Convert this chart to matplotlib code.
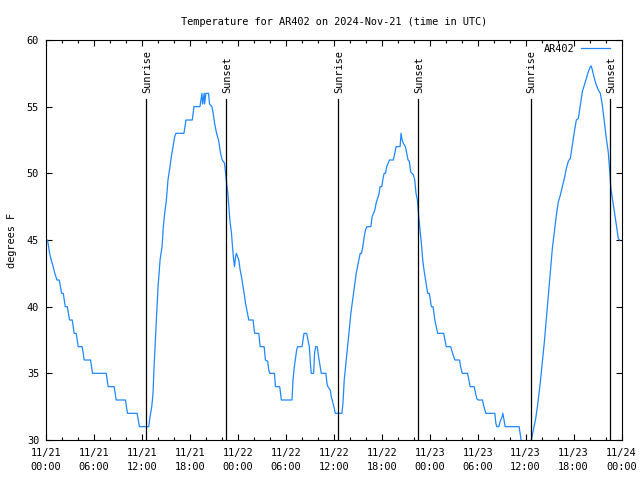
import numpy as np
import matplotlib.pyplot as plt

# hours since 11/21 00:00 UTC
hores = [0.0, 0.2, 0.45, 0.65, 0.9, 1.1, 1.37, 1.66, 1.95, 2.16, 2.41, 2.66, 2.95, 3.28,
         3.53, 3.78, 4.03, 4.53, 4.78, 5.57, 5.82, 7.53, 7.78, 8.53, 8.78, 9.94, 10.19,
         11.4, 11.69, 12.85,
         13.02, 13.23, 13.39, 13.52, 13.68, 13.85, 14.02, 14.27, 14.52, 14.68, 14.85,
         15.06, 15.26, 15.51, 15.68, 15.89, 16.1, 16.26, 17.26, 17.51, 18.3, 18.51,
         19.26, 19.51, 19.59, 19.8, 19.84, 20.0, 20.34, 20.46, 20.76, 20.92, 21.09,
         21.34, 21.59, 21.84, 22.05, 22.34, 22.55, 22.75, 23.0,
         23.21, 23.33, 23.46, 23.58, 23.71, 23.83, 23.96, 24.12, 24.29, 24.46, 24.62,
         24.79, 24.96, 25.12, 25.29, 25.37, 25.91, 26.04, 26.12, 26.62, 26.79, 27.29,
         27.45, 27.74, 27.87, 27.99, 28.58, 28.7, 29.24, 29.45, 30.78, 30.9, 31.07,
         31.24, 31.36, 31.49, 32.03, 32.15, 32.28, 32.61, 32.78, 32.94, 33.11, 33.19,
         33.48, 33.6, 33.73, 33.94, 34.1, 34.31, 34.44, 35.02, 35.15, 35.27, 35.56,
         35.69, 35.85, 36.02, 36.19, 37.02,
         37.15, 37.31, 37.48, 37.64, 37.81, 37.98, 38.14, 38.31, 38.47, 38.64, 38.81,
         38.97, 39.14, 39.31, 39.47, 39.64, 39.81, 39.97, 40.14, 40.64, 40.8, 40.97,
         41.14, 41.3, 41.47, 41.64, 41.8, 42.01, 42.14, 42.3, 42.47, 42.63, 42.8,
         42.97, 43.46, 43.63, 43.8, 44.3, 44.42, 44.55, 44.71, 44.96, 45.13, 45.3,
         45.46, 45.63, 45.79, 45.96, 46.13, 46.29, 46.46,
         46.67, 46.84, 47.0, 47.13, 47.29, 47.42, 47.54, 47.67, 47.75, 47.96, 48.08,
         48.21, 48.42, 48.54, 48.67, 48.83, 49.0, 49.75, 49.91, 50.08, 50.62, 50.83,
         51.0, 51.16, 51.74, 51.87, 52.08, 52.74, 52.91, 53.07, 53.57, 53.74, 53.9,
         54.07, 54.61, 54.74, 54.91, 55.03, 56.15, 56.28, 56.4, 56.65, 56.82, 57.07,
         57.15, 57.32, 57.44, 59.19, 59.32, 59.44, 59.7, 60.1, 60.45, 60.73,
         60.93, 61.27, 61.56, 61.85, 62.1, 62.35, 62.6, 62.85, 63.1, 63.35, 63.6,
         63.85, 64.1, 64.35, 64.6, 64.85, 65.1, 65.35, 65.6, 65.85, 66.1, 66.35,
         66.6, 66.85, 67.1, 67.35, 67.6, 67.85, 68.1, 68.22, 68.35, 68.6, 68.85,
         69.1, 69.35, 69.6, 69.85, 70.1, 70.34, 70.5, 70.67, 70.92, 71.17, 71.42,
         71.59, 71.75]

# temperatura (graus F)
temps = [45, 45, 44, 43.5, 43, 42.5, 42, 42, 41, 41, 40, 40, 39, 39,
         38, 38, 37, 37, 36, 36, 35, 35, 34, 34, 33, 33, 32,
         32, 31, 31,
         31.75, 32.5, 33.5, 35.5, 37.5, 39.5, 41.5, 43.5, 44.5, 46, 47,
         48, 49.5, 50.5, 51.25, 52, 52.75, 53, 53, 54, 54, 55,
         55, 56, 55.2, 56, 55.2, 56, 56, 55.2, 55, 54.5, 53.75,
         53, 52.5, 51.5, 51, 50.75, 49.5, 48.5, 46.5,
         45.5, 44.5, 43.6, 43, 43.75, 44, 43.75, 43.5, 42.75, 42.25, 41.6,
         41, 40.25, 39.75, 39.25, 39, 39, 38.25, 38, 38, 37, 37,
         36, 35.9, 35.25, 35, 35, 34, 34, 33, 33, 34.5, 35.5,
         36.25, 36.75, 37, 37, 37.5, 38, 38, 37.5, 37, 35.5, 35,
         35, 36.5, 37, 37, 36.25, 35.5, 35, 35, 34.25, 34, 33.75,
         33.25, 32.9, 32.5, 32, 32,
         32.75, 34.5, 35.5, 36.5, 37.5, 38.5, 39.5, 40.25, 41, 41.75, 42.5,
         43, 43.5, 44, 44, 44.5, 45.25, 45.75, 46, 46, 46.75, 47,
         47.25, 47.75, 48.1, 48.4, 49, 49, 49.5, 50, 50, 50.5, 50.75,
         51, 51, 51.5, 52, 52, 53, 52.5, 52.25, 52, 51.5, 51,
         50.9, 50.1, 50, 49.9, 49.5, 48.5, 48,
         46.5, 45.5, 44.5, 43.5, 42.75, 42.25, 41.75, 41.25, 41, 41, 40.5,
         40, 40, 39.5, 38.9, 38.5, 38, 38, 37.5, 37, 37, 36.6,
         36.25, 36, 36, 35.5, 35, 35, 34.5, 34, 34, 33.5, 33.1,
         33, 33, 32.6, 32.25, 32, 32, 31.25, 31, 31, 31.4, 31.75,
         32, 31.45, 31, 31, 30.5, 30, 29.4, 29, 29.2, 30,
         30.62, 31.62, 32.87, 34.37, 35.87, 37.37, 39.12, 40.87, 42.62, 44.37, 45.62,
         46.87, 47.87, 48.37, 49.0, 49.62, 50.37, 50.92, 51.12, 52.12, 53.12, 54.0,
         54.12, 55.12, 56.12, 56.62, 57.12, 57.62, 58.0, 58.05, 57.75, 57.12, 56.62,
         56.25, 56.0, 55.12, 53.87, 52.62, 51.62, 50.37, 48.87, 47.87, 46.87, 45.87,
         45.12, 45]

# sortida i posta de sol (hores)
sortides = [12.55, 36.57, 60.62]
postes = [22.56, 46.58, 70.6]

xticks_pos = np.arange(0, 73, 6)
xticks_lbl = ["11/21\n00:00", "11/21\n06:00", "11/21\n12:00", "11/21\n18:00",
              "11/22\n00:00", "11/22\n06:00", "11/22\n12:00", "11/22\n18:00",
              "11/23\n00:00", "11/23\n06:00", "11/23\n12:00", "11/23\n18:00",
              "11/24\n00:00"]

plt.rcParams['font.family'] = 'DejaVu Sans Mono'
fs = 7.4

fig = plt.figure(figsize=(6.4, 4.8), dpi=100)
ax = fig.add_axes([46/640, 1 - 440/480, 575.5/640, 400/480])

ax.plot(hores, temps, color='#1E88FF', linewidth=0.9, label='AR402')

for h in sortides:
    ax.plot([h, h], [30, 55.6], color='black', linewidth=0.9)
    ax.text(h + 0.1, 56.0, 'Sunrise', rotation=90, ha='center', va='bottom', fontsize=fs)
for h in postes:
    ax.plot([h, h], [30, 55.6], color='black', linewidth=0.9)
    ax.text(h + 0.1, 56.0, 'Sunset', rotation=90, ha='center', va='bottom', fontsize=fs)

ax.set_xlim(0, 72)
ax.set_ylim(30, 60)
ax.set_xticks(xticks_pos)
ax.set_xticklabels(xticks_lbl, fontsize=fs)
for lbl in ax.get_xticklabels():
    lbl.set_linespacing(1.45)
ax.set_xticks(np.arange(0, 73, 2), minor=True)
ax.set_yticks(np.arange(30, 61, 5))
ax.tick_params(axis='y', labelsize=fs, pad=5)
ax.tick_params(axis='x', pad=6)
ax.tick_params(which='both', direction='in', top=True, right=True, width=0.8)
ax.tick_params(which='major', length=4.5)
ax.tick_params(which='minor', length=2.5)
for s in ax.spines.values():
    s.set_linewidth(0.8)

ax.set_title('Temperature for AR402 on 2024-Nov-21 (time in UTC)', fontsize=fs, pad=11)
ax.set_ylabel('degrees F', fontsize=fs, labelpad=7)

ax.legend(loc='upper right', bbox_to_anchor=(0.984, 0.995), frameon=False,
          markerfirst=False, fontsize=fs, handlelength=2.8, handletextpad=0.7,
          borderaxespad=0, borderpad=0.2)

plt.savefig('out.png', dpi=100)
